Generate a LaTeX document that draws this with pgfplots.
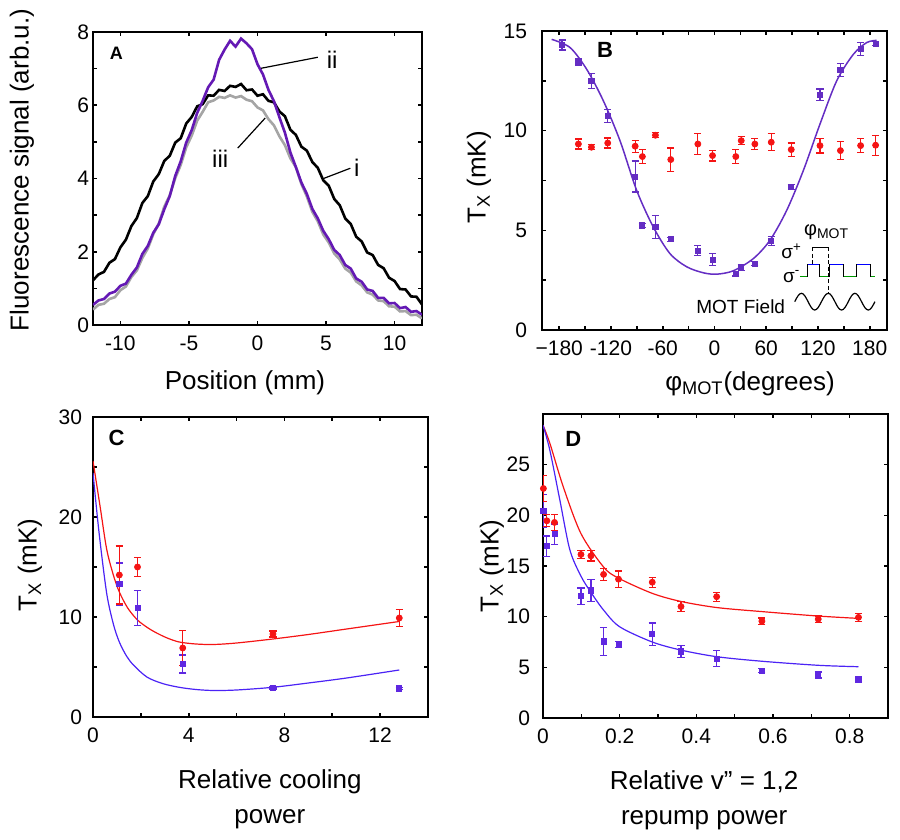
\documentclass[border=0pt]{standalone}
\usepackage{pgfplots}
\pgfplotsset{compat=1.18}
\usepackage{fontspec}
\setmainfont{Liberation Sans}
\definecolor{purpA}{RGB}{100,25,180}
\definecolor{grayA}{RGB}{165,165,165}
\definecolor{purpB}{RGB}{100,45,195}
\definecolor{blueC}{RGB}{95,40,225}
\definecolor{blueL}{RGB}{75,35,245}
\definecolor{myred}{RGB}{245,20,20}
\pgfplotsset{
  panel/.style={scale only axis, anchor=south west,
    axis line style={line width=1pt},
    tick style={line width=0.8pt, black},
    major tick length=2.2pt, minor tick length=2.2pt,
    tick align=inside, xtick pos=both, ytick pos=both,
    tick label style={font=\fontsize{10.5}{12}\selectfont},
    label style={font=\fontsize{13}{17.5}\selectfont},
    x tick label style={yshift=-2pt},
  },
  rdata/.style={only marks, color=myred, mark=*, mark size=1.5pt,
    error bars/.cd, y dir=both, y explicit,
    error bar style={line width=0.6pt},
    error mark options={rotate=90, mark size=1.8pt, line width=0.6pt}},
  bdata/.style={only marks, color=#1, mark=square*, mark size=1.3pt,
    error bars/.cd, y dir=both, y explicit,
    error bar style={line width=0.6pt},
    error mark options={rotate=90, mark size=1.8pt, line width=0.6pt}},
}
\begin{document}
\begin{tikzpicture}
\useasboundingbox (0,0) rectangle (450pt,420pt);

% ---------------- Panel A ----------------
\begin{axis}[panel, at={(46.5pt,257.5pt)}, width=164.5pt, height=146.5pt,
  xmin=-12, xmax=12, ymin=0, ymax=8,
  xtick={-10,-5,0,5,10}, xticklabels={-10,-5,0,5,10},
  ytick={0,2,4,6,8}, yticklabels={0,2,4,6,8}, minor ytick={1,3,5,7},
  y tick label style={xshift=1.5pt},
  xlabel={Position (mm)}, ylabel={Fluorescence signal (arb.u.)},
  xlabel style={at={(axis description cs:0.462,-0.198)}, anchor=center},
  ylabel style={at={(axis description cs:-0.216,0.529)}, anchor=center},
]
\addplot[black, line width=1.3pt] coordinates {
(-12.0,1.22) (-11.6,1.38) (-11.2,1.45) (-10.8,1.70) (-10.4,1.80) (-10.0,2.12)
(-9.6,2.33) (-9.2,2.70) (-8.8,2.92) (-8.4,3.33) (-8.0,3.52) (-7.6,3.92)
(-7.2,4.12) (-6.8,4.48) (-6.4,4.62) (-6.0,4.98) (-5.6,5.10) (-5.2,5.50)
(-4.8,5.68) (-4.4,5.97) (-4.0,6.03) (-3.6,6.27) (-3.2,6.26) (-2.8,6.42)
(-2.4,6.39) (-2.0,6.53) (-1.6,6.50) (-1.2,6.58) (-0.8,6.41) (-0.4,6.43)
(0.0,6.26) (0.4,6.30) (0.8,6.12) (1.2,6.08) (1.6,5.83) (2.0,5.70)
(2.4,5.33) (2.8,5.19) (3.2,4.87) (3.6,4.76) (4.0,4.45) (4.4,4.29)
(4.8,3.95) (5.2,3.80) (5.6,3.44) (6.0,3.27) (6.4,2.91) (6.8,2.76)
(7.2,2.41) (7.6,2.28) (8.0,1.98) (8.4,1.91) (8.8,1.64) (9.2,1.55)
(9.6,1.29) (10.0,1.20) (10.4,0.98) (10.8,0.97) (11.2,0.78) (11.6,0.77) (12.0,0.56)};
\addplot[grayA, line width=1.3pt] coordinates {
(-12.0,0.42) (-11.6,0.55) (-11.2,0.58) (-10.8,0.71) (-10.4,0.76) (-10.0,0.95)
(-9.6,1.05) (-9.2,1.31) (-8.8,1.49) (-8.4,1.83) (-8.0,2.09) (-7.6,2.48)
(-7.2,2.77) (-6.8,3.23) (-6.4,3.54) (-6.0,4.01) (-5.6,4.37) (-5.2,4.85)
(-4.8,5.17) (-4.4,5.58) (-4.0,5.82) (-3.6,6.08) (-3.2,6.13) (-2.8,6.23)
(-2.4,6.20) (-2.0,6.27) (-1.6,6.21) (-1.2,6.25) (-0.8,6.15) (-0.4,6.11)
(0.0,5.94) (0.4,5.86) (0.8,5.62) (1.2,5.45) (1.6,5.15) (2.0,4.91)
(2.4,4.55) (2.8,4.31) (3.2,3.85) (3.6,3.51) (4.0,3.09) (4.4,2.83)
(4.8,2.47) (5.2,2.25) (5.6,1.95) (6.0,1.79) (6.4,1.54) (6.8,1.43)
(7.2,1.19) (7.6,1.08) (8.0,0.89) (8.4,0.83) (8.8,0.67) (9.2,0.65)
(9.6,0.51) (10.0,0.50) (10.4,0.37) (10.8,0.38) (11.2,0.27) (11.6,0.28) (12.0,0.18)};
\addplot[purpA, line width=1.3pt] coordinates {
(-12.0,0.55) (-11.6,0.67) (-11.2,0.71) (-10.8,0.86) (-10.4,0.91) (-10.0,1.07)
(-9.6,1.13) (-9.2,1.37) (-8.8,1.57) (-8.4,1.94) (-8.0,2.16) (-7.6,2.52)
(-7.2,2.75) (-6.8,3.16) (-6.4,3.52) (-6.0,4.07) (-5.6,4.47) (-5.2,4.98)
(-4.8,5.32) (-4.4,5.79) (-4.0,6.12) (-3.6,6.49) (-3.2,6.70) (-2.8,7.24)
(-2.4,7.52) (-2.0,7.76) (-1.6,7.60) (-1.2,7.82) (-0.8,7.69) (-0.4,7.53)
(0.0,7.12) (0.4,6.84) (0.8,6.42) (1.2,6.11) (1.6,5.67) (2.0,5.25)
(2.4,4.71) (2.8,4.31) (3.2,3.89) (3.6,3.58) (4.0,3.17) (4.4,2.91)
(4.8,2.57) (5.2,2.34) (5.6,2.05) (6.0,1.91) (6.4,1.64) (6.8,1.54)
(7.2,1.27) (7.6,1.18) (8.0,0.97) (8.4,0.93) (8.8,0.74) (9.2,0.74)
(9.6,0.59) (10.0,0.60) (10.4,0.46) (10.8,0.49) (11.2,0.36) (11.6,0.38) (12.0,0.28)};
\draw[line width=0.6pt] (axis cs:0.27,7.01) -- (axis cs:4.4,7.31);
\node[font=\fontsize{12}{14}\selectfont] at (axis cs:5.45,7.25) {ii};
\draw[line width=0.6pt] (axis cs:-1.44,4.83) -- (axis cs:0.56,5.65);
\node[font=\fontsize{12}{14}\selectfont] at (axis cs:-2.72,4.55) {iii};
\draw[line width=0.6pt] (axis cs:4.82,4.0) -- (axis cs:6.77,4.28);
\node[font=\fontsize{12}{14}\selectfont] at (axis cs:7.25,4.28) {i};
\node[font=\bfseries\fontsize{9}{10}\selectfont] at (axis cs:-10.3,7.43) {A};
\end{axis}

% ---------------- Panel B ----------------
\begin{axis}[panel, at={(271pt,255pt)}, width=172.5pt, height=149.5pt,
  xmin=-200, xmax=200, ymin=0, ymax=15,
  xtick={-180,-120,-60,0,60,120,180},
  xticklabels={−180,-120,-60,0,60,120,180},
  minor xtick={-150,-90,-30,30,90,150},
  ytick={0,5,10,15}, yticklabels={0,5,10,15}, minor ytick={2.5,7.5,12.5},
  y tick label style={xshift=-4pt},
  xlabel={φ\textsubscript{MOT}(degrees)}, ylabel={T\textsubscript{X} (mK)},
  xlabel style={at={(axis description cs:0.603,-0.18)}, anchor=center},
  ylabel style={at={(axis description cs:-0.183,0.51)}, anchor=center},
]
\addplot[purpB, line width=0.75pt, smooth] coordinates {
(-188.8,14.58) (-167.5,14.17) (-148.2,13.08) (-128.9,11.5) (-109.6,9.5)
(-90.2,7.0) (-71,5.17) (-51.6,3.83) (-32.2,3.17) (-13,2.87) (2.5,2.8)
(21.8,2.97) (45,3.58) (64.3,4.5) (83.7,6.0) (103,8.0) (122.3,10.33)
(141.7,12.5) (161,13.83) (176.5,14.42) (188,14.53)};
\addplot[rdata] coordinates {
(-157.8,9.33) +- (0,0.25) (-142.7,9.17) +- (0,0.12) (-123.8,9.38) +- (0,0.25)
(-92,9.22) +- (0,0.3) (-83.6,8.7) +- (0,0.36) (-68.5,9.77) +- (0,0.13)
(-50.7,8.55) +- (0,0.58) (-19.3,9.33) +- (0,0.53) (-2.3,8.75) +- (0,0.27)
(24.7,8.7) +- (0,0.36) (31,9.5) +- (0,0.2) (46.8,9.33) +- (0,0.27)
(65.8,9.42) +- (0,0.43) (89,9.05) +- (0,0.33) (122.3,9.25) +- (0,0.37)
(146,9.0) +- (0,0.44) (169.4,9.25) +- (0,0.36) (186.8,9.27) +- (0,0.5)};
\addplot[bdata=purpB] coordinates {
(-176.7,14.3) +- (0,0.25) (-157.8,13.45) +- (0,0.19) (-142.7,12.5) +- (0,0.37)
(-123.8,10.75) +- (0,0.33) (-92,7.7) +- (0,0.78) (-83.9,5.25) +- (0,0.1)
(-68.5,5.17) +- (0,0.58) (-51,4.55) +- (0,0.1) (-19.3,3.97) +- (0,0.25)
(-2.3,3.53) +- (0,0.3) (24.7,2.83) +- (0,0.12) (31,3.13) +- (0,0.15)
(46.8,3.33) +- (0,0.1) (65.8,4.45) +- (0,0.23) (89,7.17) +- (0,0.12)
(122.3,11.8) +- (0,0.29) (146,13.03) +- (0,0.32) (169.4,14.1) +- (0,0.32)
(186.8,14.37) +- (0,0.1)};
\node[font=\bfseries\fontsize{11}{12}\selectfont] at (axis cs:-127,14.03) {B};
% inset
\node[font=\fontsize{10}{11}\selectfont] at (axis cs:130,4.92) {φ\textsubscript{MOT}};
\node[font=\fontsize{9.5}{10}\selectfont, inner sep=0pt] at (axis cs:89.5,3.95) {σ\textsuperscript{+}};
\node[font=\fontsize{9.5}{10}\selectfont, inner sep=0pt] at (axis cs:89.5,2.68) {σ\textsuperscript{-}};
\draw[green!60!black, line width=0.5pt] (axis cs:99.1,2.67) -- (axis cs:108.4,2.67)
  (axis cs:121.2,2.67) -- (axis cs:133.9,2.67)
  (axis cs:149.3,2.67) -- (axis cs:164.9,2.67)
  (axis cs:180.3,2.67) -- (axis cs:186.1,2.67);
\draw[blue, line width=0.5pt] (axis cs:108.4,3.3) -- (axis cs:121.2,3.3)
  (axis cs:133.9,3.3) -- (axis cs:149.3,3.3)
  (axis cs:164.9,3.3) -- (axis cs:180.3,3.3);
\draw[black, line width=0.5pt] (axis cs:108.4,2.67) -- (axis cs:108.4,3.3)
  (axis cs:121.2,2.67) -- (axis cs:121.2,3.3)
  (axis cs:133.9,2.67) -- (axis cs:133.9,3.3)
  (axis cs:149.3,2.67) -- (axis cs:149.3,3.3)
  (axis cs:164.9,2.67) -- (axis cs:164.9,3.3)
  (axis cs:180.3,2.67) -- (axis cs:180.3,3.3);
\draw[black, line width=0.5pt] (axis cs:113.4,4.14) -- (axis cs:131.9,4.14);
\draw[black, line width=0.5pt, dashed, dash pattern=on 2pt off 1.2pt] (axis cs:113.4,4.14) -- (axis cs:113.4,3.3);
\draw[black, line width=0.5pt, dashed, dash pattern=on 2pt off 1.2pt] (axis cs:131.9,4.14) -- (axis cs:131.9,1.84);
\draw[black, line width=0.6pt] (axis cs:93,1.42) sin (axis cs:100.8,1.84) cos (axis cs:108.5,1.42)
  sin (axis cs:116.2,1.0) cos (axis cs:124,1.42) sin (axis cs:131.9,1.84) cos (axis cs:139.6,1.42)
  sin (axis cs:147.3,1.0) cos (axis cs:155.1,1.42) sin (axis cs:162.8,1.84) cos (axis cs:170.5,1.42)
  sin (axis cs:178.3,1.0) cos (axis cs:186,1.42);
\node[font=\fontsize{9.5}{10}\selectfont, anchor=east] at (axis cs:90,1.15) {MOT Field};
\end{axis}

% ---------------- Panel C ----------------
\begin{axis}[panel, at={(46.5pt,61.5pt)}, width=167.5pt, height=150pt,
  xmin=0, xmax=14, ymin=0, ymax=30,
  xtick={0,4,8,12}, xticklabels={0,4,8,12}, minor xtick={2,6,10},
  ytick={0,10,20,30}, yticklabels={0,10,20,30}, minor ytick={5,15,25},
  y tick label style={xshift=-2pt},
  xlabel={Relative cooling\\power}, ylabel={T\textsubscript{X} (mK)},
  xlabel style={at={(axis description cs:0.528,-0.273)}, anchor=center, align=center},
  ylabel style={at={(axis description cs:-0.188,0.507)}, anchor=center},
]
\addplot[myred, line width=0.6pt, smooth] coordinates {
(0,25.6) (0.3,21.0) (0.57,16.8) (0.85,14.2) (1.1,12.5) (1.45,10.9) (1.86,9.7)
(2.3,8.9) (2.66,8.4) (3.1,7.9) (3.6,7.5) (4.3,7.3) (5.04,7.25) (6.0,7.4)
(7.52,7.8) (9.0,8.25) (10.6,8.8) (12.8,9.55)};
\addplot[blueL, line width=0.6pt, smooth] coordinates {
(0,24.4) (0.25,18.5) (0.57,12.4) (0.85,9.3) (1.1,7.5) (1.4,6.1) (1.69,5.2)
(2.25,4.0) (2.9,3.35) (3.6,2.97) (4.3,2.75) (5.04,2.65) (6.0,2.7) (7.52,2.97)
(9.0,3.4) (10.6,3.9) (12.8,4.7)};
\addplot[bdata=blueC] coordinates {
(1.10,13.3) +- (0,2.1) (1.86,10.9) +- (0,1.75) (3.75,5.3) +- (0,0.9)
(7.52,2.9) +- (0,0.1) (12.8,2.85) +- (0,0.1)};
\addplot[rdata] coordinates {
(1.10,14.2) +- (0,2.9) (1.86,15.0) +- (0,0.95) (3.75,6.9) +- (0,1.75)
(7.52,8.3) +- (0,0.3) (12.8,9.9) +- (0,0.85)};
\node[font=\bfseries\fontsize{11}{12}\selectfont] at (axis cs:0.99,27.9) {C};
\end{axis}

% ---------------- Panel D ----------------
\begin{axis}[panel, at={(271.5pt,61pt)}, width=172.5pt, height=152pt,
  xmin=0, xmax=0.9, ymin=0, ymax=30,
  xtick={0,0.2,0.4,0.6,0.8}, xticklabels={0,0.2,0.4,0.6,0.8},
  minor xtick={0.1,0.3,0.5,0.7},
  ytick={0,5,10,15,20,25}, yticklabels={0,5,10,15,20,25},
  y tick label style={xshift=-3pt},
  xlabel={Relative v\symbol{34} = 1,2\\repump power}, ylabel={T\textsubscript{X} (mK)},
  xlabel style={at={(axis description cs:0.467,-0.271)}, anchor=center, align=center},
  ylabel style={at={(axis description cs:-0.148,0.5)}, anchor=center},
]
\addplot[myred, line width=0.6pt, smooth] coordinates {
(0,28.9) (0.018,27.1) (0.053,22.8) (0.099,18.2) (0.158,14.9) (0.197,13.8)
(0.285,12.3) (0.36,11.5) (0.453,10.9) (0.571,10.5) (0.718,10.06) (0.823,9.83)};
\addplot[blueL, line width=0.6pt, smooth] coordinates {
(0,28.9) (0.018,26.4) (0.044,21.5) (0.07,16.6) (0.099,14.0) (0.125,12.4)
(0.158,10.65) (0.2,9.0) (0.285,7.5) (0.36,6.7) (0.453,6.05) (0.571,5.6)
(0.718,5.2) (0.823,5.06)};
\addplot[bdata=blueC] coordinates {
(0.001,20.45) +- (0,1.6) (0.01,16.96) +- (0,1.0) (0.03,18.15) +- (0,1.0)
(0.099,12.03) +- (0,0.8) (0.125,12.6) +- (0,1.1) (0.158,7.56) +- (0,1.4)
(0.197,7.27) +- (0,0.3) (0.285,8.28) +- (0,1.1) (0.36,6.57) +- (0,0.6)
(0.453,5.85) +- (0,0.8) (0.571,4.67) +- (0,0.2) (0.718,4.24) +- (0,0.3)
(0.823,3.81) +- (0,0.15)};
\addplot[rdata] coordinates {
(0.001,22.65) +- (0,1.27) (0.01,19.46) +- (0,0.6) (0.03,19.3) +- (0,0.8)
(0.099,16.14) +- (0,0.4) (0.125,16.0) +- (0,0.5) (0.158,14.17) +- (0,0.6)
(0.197,13.7) +- (0,0.8) (0.285,13.4) +- (0,0.5) (0.36,11.0) +- (0,0.5)
(0.453,11.97) +- (0,0.45) (0.571,9.56) +- (0,0.3) (0.718,9.76) +- (0,0.3)
(0.823,9.93) +- (0,0.4)};
\node[font=\bfseries\fontsize{11}{12}\selectfont] at (axis cs:0.079,27.5) {D};
\end{axis}
\end{tikzpicture}
\end{document}
